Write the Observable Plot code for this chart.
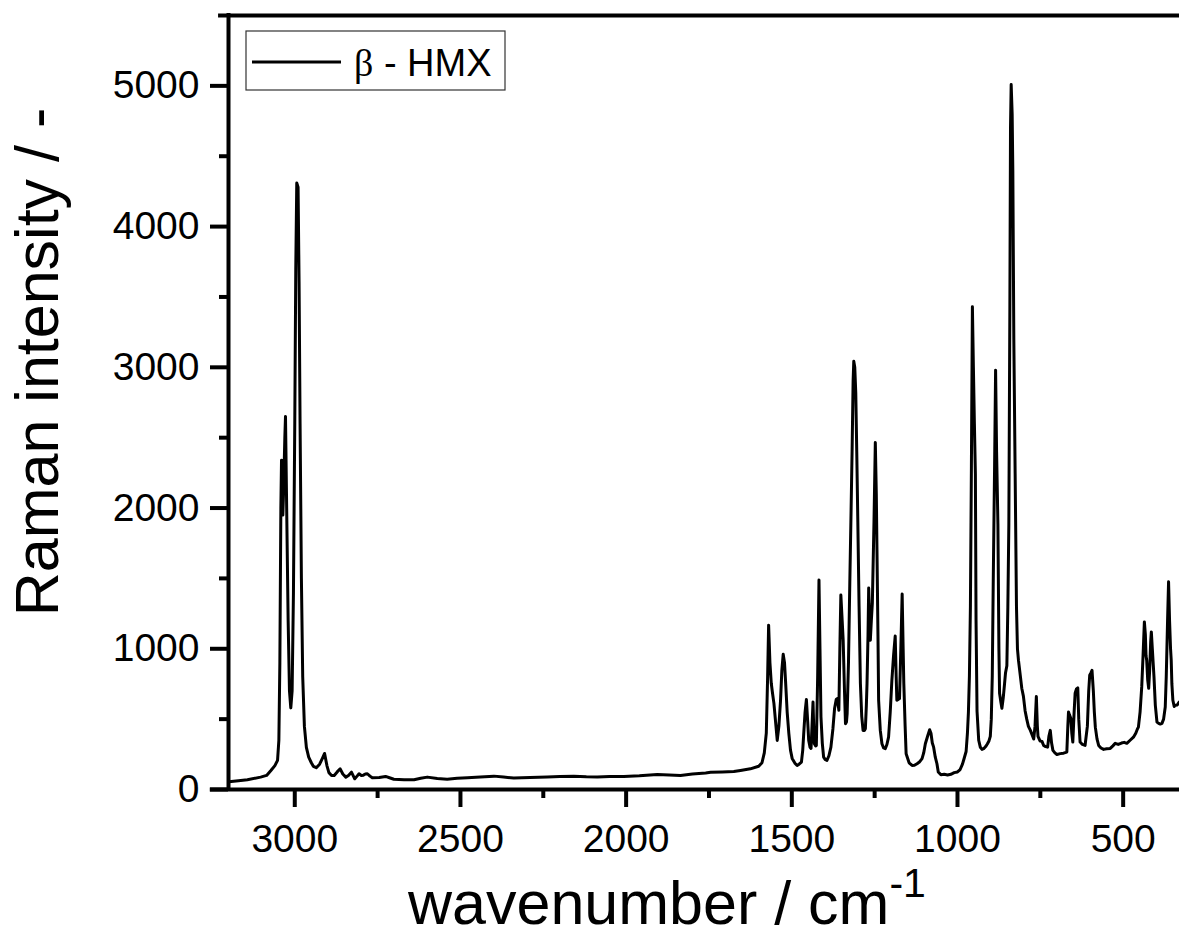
<!DOCTYPE html>
<html>
<head>
<meta charset="utf-8">
<script src="https://cdn.jsdelivr.net/npm/d3@7"></script>
<script src="https://cdn.jsdelivr.net/npm/@observablehq/plot@0.6"></script>
<style>
  html, body { margin: 0; padding: 0; background: white; }
  #chart { width: 1179px; height: 947px; overflow: hidden; }
</style>
</head>
<body>
<div id="chart"></div>
<script>
// Raman spectrum of beta-HMX
const wavenumber = [
3199,3170,3143,3103,3085,3072,3060,3052,3048,3045,3042,3040,3038,3036,3034,3030,3028,3025,3020,3016,
3012,3008,3004,3000,2997,2994,2990,2987,2984,2980,2976,2971,2965,2958,2950,2944,2935,2925,2917,2910,
2903,2897,2889,2881,2872,2863,2855,2846,2838,2829,2819,2812,2806,2799,2793,2787,2781,2773,2766,2745,
2726,2712,2701,2670,2640,2620,2600,2570,2540,2510,2479,2440,2399,2370,2339,2290,2238,2200,2158,2120,
2087,2050,2007,1960,1906,1870,1836,1800,1760,1745,1710,1675,1655,1625,1600,1590,1583,1577,1573,1570,
1566,1562,1558,1554,1549,1544,1539,1534,1530,1526,1522,1519,1514,1509,1504,1499,1490,1484,1478,1471,
1467,1464,1460,1456,1452,1449,1445,1442,1439,1436,1434,1432,1428,1426,1422,1418,1415,1412,1408,1404,
1399,1394,1388,1382,1376,1371,1366,1363,1360,1358,1355,1352,1348,1345,1341,1338,1335,1333,1329,1325,
1321,1318,1315,1313,1310,1307,1304,1301,1297,1293,1289,1285,1281,1278,1275,1273,1270,1268,1265,1263,
1260,1257,1252,1248,1245,1243,1240,1238,1233,1228,1223,1218,1213,1208,1203,1198,1193,1188,1185,1183,
1179,1175,1171,1167,1164,1162,1158,1155,1146,1137,1130,1122,1115,1107,1102,1097,1090,1084,1080,1076,
1072,1067,1062,1058,1050,1040,1030,1020,1010,1000,992,985,980,974,970,967,964,961,958,955,
952,949,946,944,941,936,931,926,921,915,910,905,901,898,895,892,888,885,882,878,
875,873,869,866,862,858,855,851,848,845,842,840,838,835,833,830,826,822,819,816,
810,806,801,796,791,786,780,775,770,766,762,759,757,751,745,740,734,728,724,720,
716,712,706,700,690,680,670,667,665,662,658,655,652,648,645,641,637,634,630,623,
615,608,604,601,597,594,590,587,584,579,574,567,559,550,539,531,524,515,505,497,
489,479,469,462,457,454,449,444,440,436,433,431,429,426,423,420,417,415,412,409,
407,403,398,393,388,383,378,373,370,366,363,360,357,355,353,350,346,343,337,331
];
const intensity = [
55,62,69,88,100,135,170,207,350,900,2000,2340,2300,1950,2100,2500,2650,2100,1200,700,
580,700,1400,2600,3700,4310,4280,3600,2600,1500,800,450,300,230,190,165,155,180,220,256,
170,120,100,100,125,147,110,88,100,123,76,95,112,100,102,110,112,95,83,85,
93,82,73,70,69,80,88,78,73,80,83,88,95,88,81,85,88,92,95,90,
88,92,93,98,107,103,100,110,118,123,125,128,135,147,165,190,260,400,800,1168,
900,755,680,612,480,349,450,634,850,961,900,776,550,399,280,221,185,171,180,195,
280,399,550,639,480,349,300,292,450,622,450,325,310,313,800,1488,1000,515,330,230,
212,207,240,301,430,575,640,646,600,563,1000,1382,1200,1061,700,468,480,539,900,1467,
2000,2414,2900,3043,3000,2820,2400,1939,1300,753,520,420,420,432,600,755,1100,1431,1200,1061,
1200,1322,1900,2466,2100,1702,1100,634,420,325,295,290,320,372,550,776,950,1090,800,634,
640,646,1000,1389,1000,755,450,254,190,171,172,183,195,219,260,325,380,425,400,330,
301,230,183,125,105,108,103,108,120,125,142,180,220,270,400,550,808,1300,2300,3430,
3000,2600,2243,1200,556,350,300,285,290,305,323,345,377,500,808,1500,2300,2980,2400,1887,
1000,684,620,577,650,750,830,880,1300,1887,3400,4700,5010,4800,4400,3200,2243,1300,1000,919,
800,720,662,560,500,449,420,390,359,450,660,450,377,345,342,313,305,301,380,420,
330,278,260,249,255,258,266,450,551,530,506,400,337,550,684,715,722,500,337,320,
313,450,700,812,830,847,700,550,443,360,313,295,285,290,292,310,328,320,330,335,
328,350,372,400,430,443,550,729,950,1191,1100,950,919,780,719,850,1050,1120,1000,880,
800,600,479,470,465,470,500,586,800,1200,1476,1200,1000,919,750,634,590,598,600,622
];
const xMajorTicks = [3000, 2500, 2000, 1500, 1000, 500];
const xMinorTicks = [2750, 2250, 1750, 1250, 750];
const yMajorTicks = [0, 1000, 2000, 3000, 4000, 5000];
const yMinorTicks = [500, 1500, 2500, 3500, 4500];
const seriesName = "HMX";
const xTitle = "wavenumber / cm";
const xTitleSup = "-1";
const yTitle = "Raman intensity / -";

const data = wavenumber.map((w, i) => ({wn: w, val: intensity[i]}));

const chart = Plot.plot({
  width: 1179,
  height: 947,
  marginLeft: 228,
  marginRight: 0,
  marginTop: 15,
  marginBottom: 158,
  style: {fontFamily: "'Liberation Sans', Arial, sans-serif", fontSize: "39px", color: "black", background: "white", overflow: "visible"},
  x: {domain: [3200, 330], label: null},
  y: {domain: [0, 5500], label: null},
  marks: [
    Plot.axisX({ticks: xMajorTicks, tickSize: 18, tickPadding: 17, strokeWidth: 4, tickFormat: d => String(d), label: null}),
    Plot.axisX({ticks: xMinorTicks, tickSize: 9, strokeWidth: 4, tickFormat: () => "", label: null}),
    Plot.axisY({ticks: yMajorTicks, tickSize: 18, tickPadding: 11, strokeWidth: 4, tickFormat: d => String(d), label: null}),
    Plot.axisY({ticks: yMinorTicks, tickSize: 9, strokeWidth: 4, tickFormat: () => "", label: null}),
    Plot.ruleY([0], {x1: 3255, x2: 330, strokeWidth: 4}),
    Plot.ruleY([5500], {x1: 3230, x2: 330, strokeWidth: 4}),
    Plot.ruleX([3200], {y1: 0, y2: 5500, strokeWidth: 4, strokeLinecap: "square"}),
    Plot.line(data, {x: "wn", y: "val", stroke: "black", strokeWidth: 3, strokeLinejoin: "round"})
  ]
});

const svg = d3.select(chart);
// axis titles
svg.append("text")
  .attr("transform", "translate(58,362) rotate(-90)")
  .attr("text-anchor", "middle")
  .attr("font-size", 61)
  .attr("font-family", "'Liberation Sans', Arial, sans-serif")
  .attr("fill", "black")
  .text(yTitle);
const xt = svg.append("text")
  .attr("x", 408).attr("y", 924)
  .attr("text-anchor", "start")
  .attr("font-size", 61)
  .attr("font-family", "'Liberation Sans', Arial, sans-serif")
  .attr("fill", "black");
xt.append("tspan").text(xTitle);
xt.append("tspan").attr("font-size", 41).attr("dy", -27).text(xTitleSup);

// legend
const lg = svg.append("g");
lg.append("rect").attr("x", 246).attr("y", 31).attr("width", 259).attr("height", 59)
  .attr("fill", "white").attr("stroke", "#333").attr("stroke-width", 1.2);
lg.append("line").attr("x1", 252).attr("x2", 341).attr("y1", 62).attr("y2", 62)
  .attr("stroke", "black").attr("stroke-width", 3);
const lt = lg.append("text").attr("x", 354).attr("y", 76)
  .attr("text-anchor", "start")
  .attr("font-size", 38).attr("font-family", "'Liberation Sans', Arial, sans-serif").attr("fill", "black");
lt.append("tspan").attr("font-family", "'Liberation Serif', 'Times New Roman', serif").text("β");
lt.append("tspan").text(" - " + seriesName);

document.getElementById("chart").appendChild(chart);
</script>
</body>
</html>
